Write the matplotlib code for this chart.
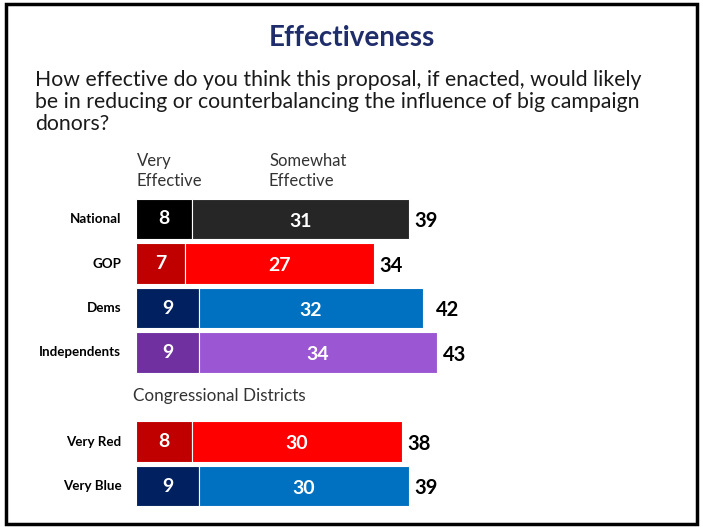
import numpy as np
import matplotlib.pyplot as plt
from matplotlib.patches import Rectangle

# data
groups = ['National', 'GOP', 'Dems', 'Independents', 'Very Red', 'Very Blue']
very_eff = [8, 7, 9, 9, 8, 9]
somewhat_eff = [31, 27, 32, 34, 30, 30]
totals = [39, 34, 42, 43, 38, 39]
positions = [0, 1, 2, 3, 5, 6]
very_colors = ['#000000', '#C00000', '#002060', '#7030A0', '#C00000', '#002060']
some_colors = ['#262626', '#FF0000', '#0070C0', '#9B57D3', '#FF0000', '#0070C0']

FONT = 'Lato'

fig = plt.figure(figsize=(7.03, 5.27), dpi=100)
fig.patch.set_facecolor('white')

# frame around the slide
fig.add_artist(Rectangle((0.008, 0.006), 0.984, 0.986, transform=fig.transFigure,
                         fill=False, edgecolor='black', linewidth=2.5))

fig.text(0.5, 0.927, 'Effectiveness', ha='center', va='center', fontsize=20,
         fontweight='bold', color='#1F2D6B', family=FONT)
fig.text(0.05, 0.868, 'How effective do you think this proposal, if enacted, would likely\n'
         'be in reducing or counterbalancing the influence of big campaign\ndonors?',
         ha='left', va='top', fontsize=15.3, color='#1a1a1a', family=FONT, linespacing=1.14)

ax = fig.add_axes([136 / 703, 1 - 512.7 / 527, 350 / 703, (512.7 - 152.25) / 527])
ax.set_xlim(0, 50)
ax.set_ylim(6.6, -1.5)
ax.axis('off')

ax.barh(positions, very_eff, height=0.9, color=very_colors, edgecolor='white', linewidth=0.8)
ax.barh(positions, somewhat_eff, left=very_eff, height=0.9, color=some_colors,
        edgecolor='white', linewidth=0.8)

for p, g, v, s, t in zip(positions, groups, very_eff, somewhat_eff, totals):
    ax.text(-2.1, p, g, ha='right', va='center', fontsize=9.6, fontweight='bold', family=FONT)
    ax.text(v / 2, p, str(v), ha='center', va='center', fontsize=14, fontweight='bold',
            color='white', family=FONT)
    ax.text(v + s / 2, p + 0.05, str(s), ha='center', va='center', fontsize=14,
            fontweight='bold', color='white', family=FONT)
    ax.text(t + 0.8, p + 0.05, str(t), ha='left', va='center', fontsize=14.5,
            fontweight='bold', color='black', family=FONT)

ax.text(0.1, -1.07, 'Very\nEffective', ha='left', va='center', fontsize=12,
        color='#333333', family=FONT, linespacing=1.3)
ax.text(19, -1.07, 'Somewhat\nEffective', ha='left', va='center', fontsize=12,
        color='#333333', family=FONT, linespacing=1.3)
ax.text(-0.4, 3.97, 'Congressional Districts', ha='left', va='center', fontsize=12.3,
        color='#333333', family=FONT)

fig.savefig('out.png', dpi=100)
